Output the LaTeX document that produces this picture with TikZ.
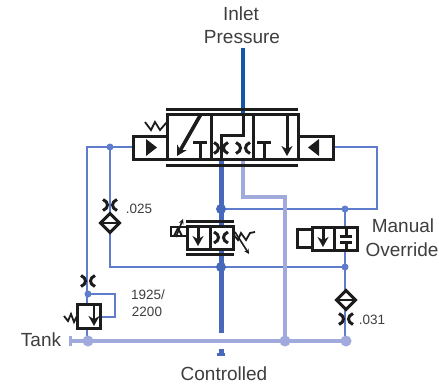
\documentclass[tikz,border=0pt]{standalone}
\usepackage{fontspec}
\setmainfont{Liberation Sans}
\usetikzlibrary{arrows.meta}
\definecolor{inletblue}{RGB}{24,84,170}
\definecolor{ctrlblue}{RGB}{72,104,188}
\definecolor{thinblue}{RGB}{96,124,204}
\definecolor{tankblue}{RGB}{160,170,220}
\definecolor{sym}{RGB}{28,28,28}
\definecolor{txt}{RGB}{62,62,62}
\tikzset{
  x=1pt,y=-1pt,
  inletline/.style={draw=inletblue,line width=4.5pt},
  ctrlline/.style={draw=ctrlblue,line width=5pt},
  thinline/.style={draw=thinblue,line width=2.2pt},
  tankline/.style={draw=tankblue,line width=4.5pt},
  symb/.style={draw=sym,line width=3pt,line join=miter},
  cellbox/.style={symb,fill=white},
  thick arrow/.style={draw=sym,line width=3pt,-{Stealth[length=10pt,width=11pt]}},
  spring/.style={draw=sym,line width=1.8pt},
  label big/.style={text=txt,font=\fontsize{19}{21}\selectfont,inner sep=0pt},
  label small/.style={text=txt,font=\fontsize{13.5}{15}\selectfont,inner sep=0pt},
  restr/.pic={
    \draw[draw=sym,line width=3pt] (-7,-5.5) .. controls (-1,-3) and (-1,3) .. (-7,5.5);
    \draw[draw=sym,line width=3pt] (7,-5.5) .. controls (1,-3) and (1,3) .. (7,5.5);
  },
  filterd/.pic={
    \draw[cellbox] (-9.5,0) -- (0,-9.5) -- (9.5,0) -- (0,9.5) -- cycle;
    \draw[draw=sym,line width=2pt] (-9.5,0) -- (9.5,0);
  },
  dotS/.style={circle,fill=thinblue,inner sep=0pt,minimum size=7pt},
  dotC/.style={circle,fill=ctrlblue,inner sep=0pt,minimum size=10pt},
  dotT/.style={circle,fill=tankblue,inner sep=0pt,minimum size=11pt},
}
\begin{document}
\begin{tikzpicture}
\useasboundingbox (0,0) rectangle (439,386);
% junction coordinates
\coordinate (inA) at (243,48);
\coordinate (inB) at (243,114);
\coordinate (ctA) at (221,159);
\coordinate (ctB) at (221,333);
\coordinate (ctC) at (221,349);
\coordinate (ctD) at (221,354);
\coordinate (lgA) at (243,159);
\coordinate (lgB) at (243,197);
\coordinate (lgC) at (285,197);
\coordinate (tkL) at (70,341);
\coordinate (tkR) at (346,341);
% thin pilot lines
\draw[thinline] (133,147) -- (87,147) -- (87,341);
\draw[thinline] (110,147) -- (110,267) -- (345,267);
\draw[thinline] (221,209) -- (377,209) -- (377,147) -- (333,147);
\draw[thinline] (345,209) -- (345,341);
\draw[thinline] (88,294) -- (115,294) -- (115,317) -- (100,317);
% tank and supply
\draw[tankline] (tkL) -- (tkR);
\draw[draw=tankblue,line width=2.5pt] (70.5,336) -- (70.5,346);
\draw[tankline] (lgA) -- (lgB) -- (lgC) -- (285,341);
\draw[inletline] (inA) -- (inB);
\draw[ctrlline] (ctA) -- (ctB);
\draw[ctrlline] (ctC) -- (ctD);
\draw[draw=ctrlblue,line width=3pt] (217,354.5) -- (225,354.5);
% dots
\node[dotS] (d1) at (110,147) {};
\node[dotS] (d2) at (88,294) {};
\node[dotS] (d3) at (345,209) {};
\node[dotS] (d4) at (345,267) {};
\node[dotC] (d5) at (221,209) {};
\node[dotC] (d6) at (221,267) {};
\node[dotT] (d7) at (88,341) {};
\node[dotT] (d8) at (285,341) {};
\node[dotT] (d9) at (346,341) {};
% main valve
\draw[symb] (166,109) -- (298,109);
\draw[symb] (166,165) -- (298,165);
\draw[cellbox] (167,114) rectangle (298,159);
\draw[symb] (211,114) -- (211,159);
\draw[symb] (253,114) -- (253,159);
\draw[cellbox] (133,136) rectangle (167,159);
\draw[cellbox] (298,136) rectangle (333,159);
\fill[sym] (146,139) -- (157,147.5) -- (146,156) -- cycle;
\fill[sym] (319,139) -- (308,147.5) -- (319,156) -- cycle;
\draw[spring] (145,122) -- (151,130) -- (155,122) -- (160,130) -- (167,122);
\draw[thick arrow,line width=3.6pt] (201,114) -- (177,156);
\draw[symb] (193,142) -- (207,142);
\draw[symb] (200,142) -- (200,159);
\draw[symb] (257,142) -- (271,142);
\draw[symb] (264,142) -- (264,159);
\draw[thick arrow] (287,114) -- (287,156);
\draw[symb] (inB) -- (243,135) -- (221,135) -- (ctA);
\pic at (221,148) {restr};
\pic at (243,148) {restr};
% small valve
\draw[symb] (186,221) -- (234,221);
\draw[symb] (186,254) -- (234,254);
\draw[cellbox] (187,226) rectangle (233,249);
\draw[symb] (210,226) -- (210,249);
\draw[thick arrow] (198,226) -- (198,246);
\pic at (221,237.5) {restr};
\draw[draw=sym,line width=2.4pt] (187,227) -- (171,227) -- (171,236) -- (187,236);
\draw[draw=sym,line width=1.8pt] (174,236) -- (178,228) -- (182,236);
\draw[draw=sym,line width=1.6pt,-{Stealth[length=5pt,width=5pt]}] (176,237) -- (183,219);
\draw[spring] (233,234) -- (238,240) -- (241,233) -- (246,240) -- (250,233) -- (255,232);
\draw[draw=sym,line width=1.6pt,-{Stealth[length=5pt,width=5pt]}] (235,232) -- (249,254);
% manual override valve
\draw[cellbox] (312,227) rectangle (357,250);
\draw[symb] (334,227) -- (334,250);
\draw[thick arrow] (323,227) -- (323,247);
\draw[symb] (346,227) -- (346,236);
\draw[symb] (340,236.5) -- (352,236.5);
\draw[symb] (346,242) -- (346,250);
\draw[symb] (340,242) -- (352,242);
\draw[symb] (312,229) -- (297,229);
\draw[symb] (312,247) -- (297,247);
\draw[symb] (297,227.5) -- (297,248.5);
% orifices and filters
\pic at (110,205) {restr};
\pic at (110,223) {filterd};
\pic at (346,300) {filterd};
\pic at (346,319) {restr};
\pic at (88,281) {restr};
% relief valve
\draw[cellbox] (77,304) rectangle (100,328);
\draw[thick arrow,line width=2.4pt] (94,305) -- (94,326);
\draw[spring] (64,316) -- (68,321) -- (71,314) -- (74,322) -- (77,316);
% labels
\node[label big] (inlet) at (241,14) {Inlet};
\node[label big] (press) at (242,37) {Pressure};
\node[label big] (manual) at (403,226) {Manual};
\node[label big] (overr) at (402,250) {Override};
\node[label big] (tank) at (41,340) {Tank};
\node[label big] (contr) at (224,374) {Controlled};
\node[label small] (o1) at (139,209) {.025};
\node[label small] (o2) at (372,320) {.031};
\node[label small] (rv1) at (148,295) {1925/};
\node[label small] (rv2) at (147,312) {2200};
\end{tikzpicture}
\end{document}
